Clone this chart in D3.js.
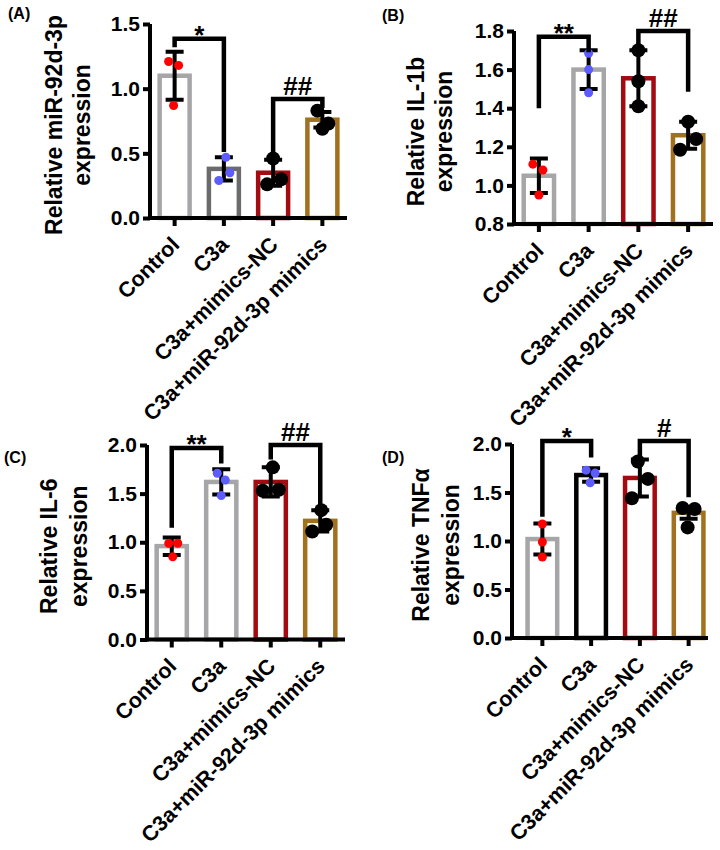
<!DOCTYPE html>
<html><head><meta charset="utf-8">
<script src="https://cdn.jsdelivr.net/npm/d3@7"></script>
<style>
body{margin:0;background:#fff}
svg{display:block}
text{font-family:"Liberation Sans",Arial,Helvetica,sans-serif;font-weight:bold;fill:#000}
</style>
</head><body>
<svg id="chart" width="720" height="850"></svg>
<script>
// ---------------- DATA ----------------
const categories = ["Control", "C3a", "C3a+mimics-NC", "C3a+miR-92d-3p mimics"];

// (A) miR-92d-3p
const meanA = [1.10, 0.38, 0.35, 0.76];
const sdA = [0.185, 0.09, 0.10, 0.06];
const pointsA = [[1.21, 1.18, 0.87], [0.47, 0.35, 0.29], [0.46, 0.26, 0.30], [0.83, 0.73, 0.69]];
const ticksA = [0, 0.5, 1.0, 1.5];
const sigA = [
  {from: 0, to: 1, top: 1.385, left: 1.32, right: 0.51, label: "*"},
  {from: 2, to: 3, top: 0.92, left: 0.49, right: 0.85, label: "##"}
];

// (B) IL-1b
const meanB = [1.05, 1.60, 1.555, 1.26];
const sdB = [0.09, 0.10, 0.145, 0.07];
const pointsB = [[1.11, 1.08, 0.95], [1.685, 1.60, 1.48], [1.70, 1.54, 1.41], [1.33, 1.24, 1.185]];
const ticksB = [0.8, 1.0, 1.2, 1.4, 1.6, 1.8];
const sigB = [
  {from: 0, to: 1, top: 1.77, left: 1.40, right: 1.69, label: "**"},
  {from: 2, to: 3, top: 1.80, left: 1.72, right: 1.485, label: "##"}
];

// (C) IL-6
const meanC = [0.96, 1.62, 1.62, 1.22];
const sdC = [0.09, 0.13, 0.15, 0.11];
const pointsC = [[0.99, 0.99, 0.85], [1.71, 1.64, 1.48], [1.77, 1.53, 1.54], [1.33, 1.18, 1.11]];
const ticksC = [0, 0.5, 1.0, 1.5, 2.0];
const sigC = [
  {from: 0, to: 1, top: 1.97, left: 1.15, right: 1.81, label: "**"},
  {from: 2, to: 3, top: 2.0, left: 1.85, right: 1.36, label: "##"}
];

// (D) TNFα
const meanD = [1.02, 1.68, 1.65, 1.29];
const sdD = [0.16, 0.07, 0.19, 0.06];
const pointsD = [[1.175, 0.99, 0.835], [1.73, 1.70, 1.60], [1.82, 1.64, 1.44], [1.34, 1.33, 1.14]];
const ticksD = [0, 0.5, 1.0, 1.5, 2.0];
const sigD = [
  {from: 0, to: 1, top: 2.03, left: 1.25, right: 1.86, label: "*"},
  {from: 2, to: 3, top: 2.03, left: 1.86, right: 1.45, label: "#"}
];

// ---------------- STYLE / LAYOUT ----------------
const GRAY = "#a6a6a8", DARKGRAY = "#6b6b6b", RED = "#a30b10", BROWN = "#a2711f";
const pointColors = ["#ff0000", "#5c5cff", "#000000", "#000000"];
const pointRadius = [4.5, 4.5, 7, 7];

const panels = [
  {tag: "(A)", tagX: 8, tagY: 19, title: ["Relative miR-92d-3p", "expression"],
   axisX: 150, bandStart: 150, bandEnd: 347, axisEnd: 347, yBottom: 218, yTop: 24, domain: [0, 1.5],
   titleOff: 60, titleGap: 28,
   colors: [GRAY, DARKGRAY, RED, BROWN],
   jitter: [[-6, 4, -1], [2, 6, -5], [0, -6, 8], [-5, 6, 0]],
   mean: meanA, sd: sdA, points: pointsA, ticks: ticksA, sig: sigA},
  {tag: "(B)", tagX: 382, tagY: 21, title: ["Relative IL-1b", "expression"],
   axisX: 514, bandStart: 514, bandEnd: 713, axisEnd: 713, yBottom: 224, yTop: 31, domain: [0.8, 1.8],
   titleOff: 62, titleGap: 28,
   colors: [GRAY, GRAY, RED, BROWN],
   jitter: [[-6, 4, 0], [0, 0, 0], [0, 0, 0], [0, 8, -8]],
   mean: meanB, sd: sdB, points: pointsB, ticks: ticksB, sig: sigB},
  {tag: "(C)", tagX: 4, tagY: 463, title: ["Relative IL-6", "expression"],
   axisX: 147, bandStart: 147, bandEnd: 345, axisEnd: 345, yBottom: 639.5, yTop: 445, domain: [0, 2],
   titleOff: 60, titleGap: 30,
   colors: [GRAY, GRAY, RED, BROWN],
   jitter: [[-3, 6, 1], [-4, 4, 0], [2, -8, 8], [1, 6, -8]],
   mean: meanC, sd: sdC, points: pointsC, ticks: ticksC, sig: sigC},
  {tag: "(D)", tagX: 382, tagY: 463, title: ["Relative TNFα", "expression"],
   axisX: 512, bandStart: 518, bandEnd: 713, axisEnd: 708, yBottom: 638, yTop: 444, domain: [0, 2],
   titleOff: 53, titleGap: 30,
   colors: [GRAY, "#000000", RED, BROWN],
   jitter: [[0, 0, 0], [-5, 4, -1], [-2, 8, -8], [-6, 6, -1]],
   mean: meanD, sd: sdD, points: pointsD, ticks: ticksD, sig: sigD}
];

const svg = d3.select("#chart");
const AXW = 4, BARW = 4.5, ERRW = 4, CAP = 9, BRW = 4.5;
const TICKFONT = 21, CATFONT = 21.5, TITLEFONT = 23, SIGFONT = 26;

panels.forEach(p => {
  const g = svg.append("g");
  const x = d3.scaleBand().domain(categories).range([p.bandStart, p.bandEnd])
    .paddingInner(0.3).paddingOuter(0.15);
  const y = d3.scaleLinear().domain(p.domain).range([p.yBottom, p.yTop]);
  const cx = c => x(c) + x.bandwidth() / 2;

  // bars
  g.selectAll("rect.bar").data(categories).join("rect")
    .attr("class", "bar")
    .attr("x", c => x(c) + BARW / 2)
    .attr("width", x.bandwidth() - BARW)
    .attr("y", (c, i) => y(p.mean[i]))
    .attr("height", (c, i) => p.yBottom - y(p.mean[i]))
    .attr("fill", "#fff")
    .attr("stroke", (c, i) => p.colors[i])
    .attr("stroke-width", BARW);

  // error bars
  categories.forEach((c, i) => {
    const hi = y(p.mean[i] + p.sd[i]), lo = y(p.mean[i] - p.sd[i]), xc = cx(c);
    g.append("path")
      .attr("d", `M${xc},${hi}V${lo}M${xc - CAP},${hi}H${xc + CAP}M${xc - CAP},${lo}H${xc + CAP}`)
      .attr("stroke", "#000").attr("stroke-width", ERRW).attr("fill", "none");
  });

  // points
  categories.forEach((c, i) => {
    g.selectAll(null).data(p.points[i]).join("circle")
      .attr("cx", (v, k) => cx(c) + p.jitter[i][k])
      .attr("cy", v => y(v))
      .attr("r", pointRadius[i])
      .attr("fill", pointColors[i]);
  });

  // y axis
  const ya = g.append("g").attr("transform", `translate(${p.axisX},0)`)
    .call(d3.axisLeft(y).tickValues(p.ticks).tickFormat(d3.format(".1f")).tickSize(7).tickPadding(3).tickSizeOuter(0));
  ya.select(".domain").remove();
  ya.append("line").attr("x1", 0).attr("x2", 0).attr("y1", p.yTop).attr("y2", p.yBottom + AXW / 2)
    .attr("stroke", "#000").attr("stroke-width", AXW);
  ya.selectAll(".tick line").attr("stroke-width", AXW).attr("x2", -7);
  ya.selectAll(".tick text").attr("font-size", TICKFONT).attr("font-family", null);

  // x axis
  const xa = g.append("g").attr("transform", `translate(0,${p.yBottom})`)
    .call(d3.axisBottom(x).tickSize(8).tickSizeOuter(0));
  xa.select(".domain").remove();
  xa.append("line").attr("x1", p.axisX - AXW / 2).attr("x2", p.axisEnd).attr("y1", 0).attr("y2", 0)
    .attr("stroke", "#000").attr("stroke-width", AXW);
  xa.selectAll(".tick line").attr("stroke-width", AXW);
  xa.selectAll(".tick text")
    .attr("font-size", CATFONT).attr("font-family", null)
    .attr("x", 0).attr("y", 0).attr("dy", 0)
    .attr("text-anchor", "end")
    .attr("transform", "translate(6,28) rotate(-45)");

  // y title
  const midY = (p.yTop + p.yBottom) / 2 + 4;
  const tg = g.append("g").attr("transform", `translate(${p.axisX - p.titleOff},${midY}) rotate(-90)`);
  tg.append("text").attr("text-anchor", "middle").attr("font-size", TITLEFONT).attr("y", -p.titleGap).text(p.title[0]);
  tg.append("text").attr("text-anchor", "middle").attr("font-size", TITLEFONT).attr("y", 0).text(p.title[1]);

  // significance brackets
  p.sig.forEach(s => {
    const x1 = cx(categories[s.from]), x2 = cx(categories[s.to]);
    g.append("path")
      .attr("d", `M${x1},${y(s.left)}V${y(s.top)}H${x2}V${y(s.right)}`)
      .attr("fill", "none").attr("stroke", "#000").attr("stroke-width", BRW)
      .attr("stroke-linejoin", "miter");
    const isStar = s.label.includes("*");
    g.append("text").attr("x", (x1 + x2) / 2).attr("y", y(s.top) + (isStar ? 5 : -4))
      .attr("text-anchor", "middle").attr("font-size", SIGFONT).text(s.label);
  });

  // panel tag
  svg.append("text").attr("x", p.tagX).attr("y", p.tagY).attr("font-size", 16).text(p.tag);
});
</script>
</body></html>
